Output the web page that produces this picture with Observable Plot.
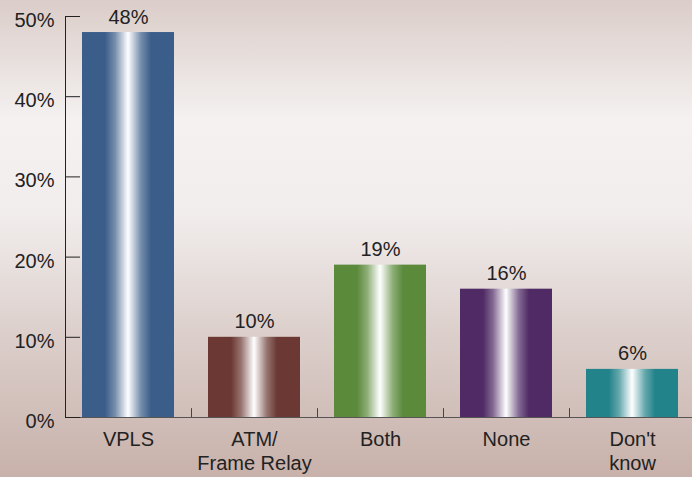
<!DOCTYPE html>
<html><head><meta charset="utf-8">
<script src="https://cdn.jsdelivr.net/npm/d3@7"></script>
<script src="https://cdn.jsdelivr.net/npm/@observablehq/plot@0.6"></script>
<style>html,body{margin:0;padding:0;overflow:hidden;background:#e6dcd9;}</style>
</head><body><div id="chart"></div>
<script>
const categories = ["VPLS", "ATM/Frame Relay", "Both", "None", "Don't know"];
const labels = ["VPLS", "ATM/\nFrame Relay", "Both", "None", "Don't\nknow"];
const values = [48, 10, 19, 16, 6];
const colors = ["#3b5d89", "#6b3833", "#5b8a3b", "#4f2a64", "#23838a"];
const yTicks = [0, 10, 20, 30, 40, 50];

const W = 692, H = 477, mL = 65, mR = -3, mT = 16, mB = 60;
const data = categories.map((c, i) => ({cat: c, label: labels[i], value: values[i], id: `bargrad${i}`}));
const step = (W - mL - mR) / categories.length;
const font = "'Liberation Sans', Arial, sans-serif";

const plot = Plot.plot({
  width: W, height: H,
  marginLeft: mL, marginRight: mR, marginTop: mT, marginBottom: mB,
  style: {
    background: "linear-gradient(to bottom, #dbcdc9 0%, #f4f1f0 25%, #f1edec 45%, #dccfcb 70%, #c8b1aa 100%)",
    fontFamily: font, fontSize: "20px", color: "#222", overflow: "visible"
  },
  x: {domain: categories, paddingInner: 0.27, paddingOuter: 0.135, axis: null},
  y: {domain: [0, 50], axis: null},
  color: {type: "identity"},
  marks: [
    Plot.barY(data, {x: "cat", y: "value", fill: d => `url(#${d.id})`}),
    Plot.frame({anchor: "bottom", stroke: "#555"}),
    Plot.frame({anchor: "left", stroke: "#222"}),
    Plot.ruleY(yTicks, {y: d => d, insetRight: W - mL - mR - 15, stroke: "#222"}),
    Plot.ruleX(categories.slice(1), {x: d => d, dx: -step / 2, y1: () => 0, y2: () => 1.1, stroke: "#444"}),
    Plot.text(yTicks, {y: d => d, frameAnchor: "left", textAnchor: "end", dx: -11, dy: 4, text: d => d + "%", fontSize: 20, fill: "#222"}),
    Plot.text(data, {x: "cat", y: "value", text: d => d.value + "%", lineAnchor: "bottom", dy: -9, fontSize: 20, fill: "#222"}),
    Plot.text(data, {x: "cat", y: () => 0, text: "label", lineAnchor: "top", dy: 11, lineHeight: 1.2, fontSize: 20, fill: "#222"})
  ]
});

const svg = d3.select(plot);
const defs = svg.insert("defs", ":first-child");
colors.forEach((c, i) => {
  const mix = d3.interpolateRgb(c, "#ffffff");
  const g = defs.append("linearGradient").attr("id", `bargrad${i}`)
    .attr("x1", 0).attr("x2", 1).attr("y1", 0).attr("y2", 0);
  const stops = [[0, c], [0.25, c], [0.36, mix(0.3)], [0.45, mix(0.75)], [0.5, "#ffffff"],
                 [0.55, mix(0.75)], [0.64, mix(0.3)], [0.75, c], [1, c]];
  stops.forEach(([o, col]) => g.append("stop").attr("offset", o).attr("stop-color", col));
});

document.getElementById("chart").appendChild(plot);
</script>
</body></html>
